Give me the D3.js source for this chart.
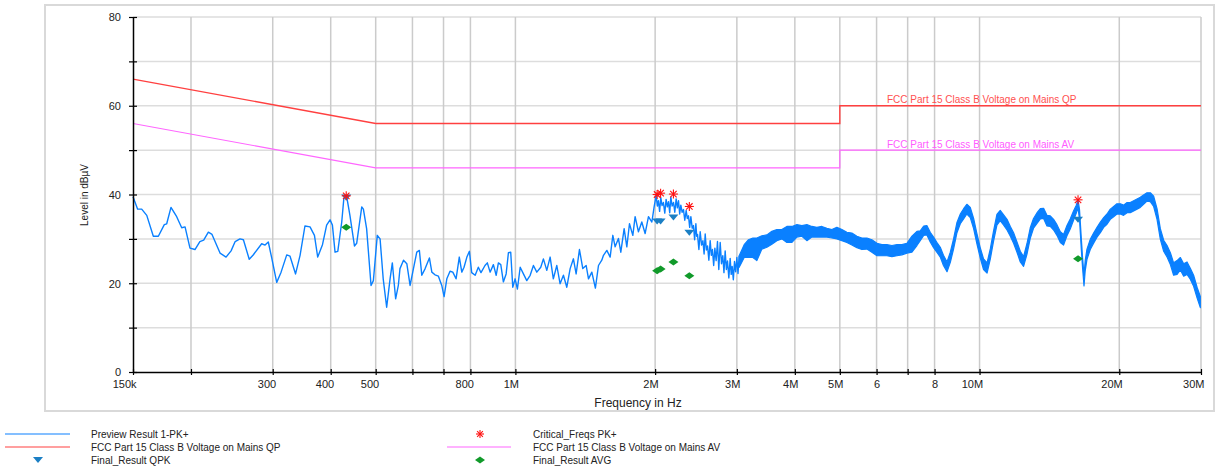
<!DOCTYPE html>
<html><head><meta charset="utf-8">
<script src="https://cdn.jsdelivr.net/npm/d3@7"></script>
<style>
body{margin:0;background:#fff;}
svg{display:block;font-family:"Liberation Sans",Arial,sans-serif;}
</style>
</head><body>
<svg id="c" width="1231" height="469"></svg>
<script>
// ---------------- DATA ----------------
// Preview Result 1-PK+ below 3 MHz: [frequency kHz, level dBµV]
const previewPoints = [
[150,39.5],[153.5,36.7],[156.6,36.7],[160.6,35.3],[165.9,30.6],[170.1,30.6],[175.2,33.2],[177.3,33.4],[181.1,37.1],[186.3,35.0],
[191,32.5],[194.2,32.7],[199,27.9],[204,27.6],[209,29.4],[213,29.7],[218,31.5],[222,31.0],[231,26.8],[238,25.9],
[244,27.3],[249,29.4],[255,30.0],[259.4,29.8],[267,25.4],[272,26.3],[284,28.9],[288.8,28.6],[293.5,29.3],[298.5,25.7],
[306,20.2],[312.7,22.5],[321.6,26.4],[326.9,26.1],[336,22.1],[343.6,26.3],[352,32.9],[361,32.7],[369,30.8],[375,25.9],
[384,28.7],[392,33.1],[398.7,34.3],[403.4,33.1],[408.7,27.0],[414.3,27.2],[422.5,33.8],[427,39.2],[433,39.5],[440,35.3],
[450,28.4],[455,29.0],[466.6,37.2],[470.4,36.7],[478,32.3],[488.6,19.5],[494.3,20.6],[504,30.8],[511,30.0],[519,21.0],
[528,14.6],[537,21.0],[543,24.6],[552,16.5],[559.6,19.6],[564,23.3],[574,25.2],[583.5,24.4],[593,19.5],[603,23.3],
[613,27.0],[621,27.4],[628.5,21.8],[639,23.3],[652.7,25.7],[660.6,22.5],[671,21.9],[682.5,21.6],[694,19.5],[702,17.0],
[711.6,21.0],[723,22.7],[733,22.5],[745,21.0],[757,25.9],[766.5,22.5],[775,23.6],[786,25.9],[796,27.2],[805,22.4],
[819,21.8],[832,23.6],[843,22.4],[860,24.0],[870,24.6],[882,22.5],[896.5,24.2],[909,21.8],[919,24.6],[930,24.2],
[942,20.3],[955,22.1],[966,26.9],[977,27.0],[987,19.1],[998.5,21.0],[1010,18.7],[1024,23.6],[1040.6,22.1],[1058,20.6],
[1076,21.8],[1093.5,24.0],[1112,22.5],[1134,23.6],[1149,25.5],[1168.5,22.9],[1188,25.9],[1207,21.0],[1228,24.0],[1248,19.9],
[1269,21.8],[1290.5,19.1],[1312,23.3],[1333.5,25.5],[1351.5,22.1],[1374,27.6],[1397,23.3],[1420.5,24.0],[1437,21.0],[1461,22.5],
[1487,18.9],[1510,24.0],[1535,25.2],[1548,26.3],[1574,27.4],[1600,25.9],[1621.5,30.8],[1640,28.2],[1667,30.1],[1687,27.0],
[1715,32.3],[1738,28.2],[1761,33.4],[1790.5,30.8],[1811,35.0],[1841,31.6],[1872,33.8],[1903,31.2],[1935,35.0],[1968,33.8],
[1990,37.2],[2010,39.8],[2022,37.4],[2033,38.6],[2045,36.2],[2057,39.3],[2070,37.5],[2084,38.2],[2098,35.8],[2112,38.9],
[2125,37.2],[2137,38.4],[2150,35.9],[2162,39.4],[2176,37.4],[2191,38.2],[2205,36.0],[2220,39.0],[2233,37.0],[2246,38.6],
[2259,35.6],[2272,37.6],[2287,36.0],[2302,36.6],[2317,34.2],[2333,36.4],[2346,34.6],[2360,35.2],[2374,32.6],[2388,35.0],
[2404,32.4],[2419,33.0],[2433,29.8],[2448,33.4],[2458,30.6],[2468,31.0],[2485,27.6],[2501,31.6],[2518,28.6],[2535,29.6],
[2550,26.6],[2564,31.1],[2579,27.5],[2594,28.4],[2611,25.2],[2628,29.6],[2643,26.3],[2658,27.6],[2674,24.0],[2690,27.9],
[2707,25.1],[2725,29.4],[2743,23.1],[2762,29.2],[2780,24.4],[2798,26.2],[2814,22.4],[2831,27.3],[2848,23.1],[2864,25.0],
[2883,21.2],[2902,25.6],[2917,22.0],[2931,23.8],[2948,20.8],[2965,24.9],[2982,22.6],[3000,25.8],[3017,22.2]
];
// Preview Result 1-PK+ from 3 MHz, per-bin peak/min: [frequency kHz, max dBµV, min dBµV]
const previewBins = [
[3035,26.2,23.6],[3111,28.7,25.8],[3178,29.8,25.8],[3248,30.2,25.8],[3313,30.2,25.1],[3396,30.7,27.7],[3482,30.9,28.1],
[3569,31.7,28.8],[3658,32.1,29.6],[3750,32.1,30.0],[3845,32.8,29.2],[3942,32.8,29.2],[4041,33.2,30.4],[4142,33.0,30.6],[4246,33.2,29.6],
[4352,32.8,30.4],[4461,32.6,30.4],[4574,32.8,30.4],[4689,32.4,30.4],[4806,32.1,30.2],[4927,32.6,30.0],[5052,32.1,29.6],[5178,31.5,29.2],
[5308,31.3,28.6],[5442,30.6,28.0],[5578,30.2,27.6],[5719,30.2,27.7],[5862,29.8,27.0],[6011,29.0,26.2],[6161,28.7,26.2],[6316,28.7,26.2],
[6474,28.5,26.0],[6637,28.7,26.2],[6804,28.7,26.4],[6975,29.0,26.8],[7150,30.6,27.0],[7330,31.7,28.5],
[7450,31.8,29.6],[7580,32.9,30.8],[7700,33.0,30.9],[7830,31.5,29.3],[7960,30.4,28.0],[8090,29.2,27.0],[8230,28.1,25.9],[8360,26.3,24.0],
[8510,24.8,22.6],[8650,27.0,24.7],[8790,30.0,27.7],[8940,33.7,31.4],[9090,35.6,33.4],[9240,36.8,34.5],[9390,37.8,35.6],[9550,37.1,34.8],
[9710,34.6,32.3],[9870,31.2,28.9],[10030,28.1,25.8],[10200,25.5,23.1],[10380,24.6,22.3],[10550,27.8,25.5],[10720,31.8,29.5],[10900,35.5,33.1],
[11080,36.4,34.1],[11270,35.4,33.1],[11460,34.4,32.0],[11650,32.8,30.6],[11840,31.4,29.0],[12040,29.3,27.0],[12240,27.2,24.8],[12440,26.0,23.8],
[12650,28.9,26.5],[12860,32.5,30.1],[13070,34.6,32.4],[13300,35.9,33.5],[13520,36.8,34.5],[13740,36.9,34.6],[13970,35.3,32.9],[14200,35.2,32.8],
[14440,34.4,32.0],[14680,33.2,30.8],[14930,31.6,29.2],[15170,31.0,28.6],[15430,33.0,30.7],[15680,34.5,32.2],[15940,36.3,34.2],[16160,37.6,35.8],
[16300,38.8,37.0],[16420,36.6,34.4],[16570,30.0,27.5],[16670,25.8,23.5],[16790,21.8,19.4],[16890,25.1,22.8],[17040,27.7,25.4],[17320,29.9,27.6],
[17610,31.3,29.0],[17910,32.6,30.4],[18210,33.8,31.4],[18510,34.8,32.6],[18820,35.6,33.3],[19130,36.7,34.4],[19450,37.3,35.0],[19770,37.9,35.6],
[20110,37.9,35.6],[20430,37.6,35.3],[20790,38.2,35.9],[21120,38.2,35.9],[21480,38.6,36.3],[21840,39.0,36.7],[22200,39.4,37.1],[22560,39.9,37.8],
[22950,40.4,38.5],[23330,40.4,38.4],[23720,39.6,37.3],[24120,36.8,34.4],[24520,32.3,29.9],[24930,29.7,27.2],[25350,28.5,25.9],[25770,26.9,24.2],
[26190,24.6,21.8],[26640,25.1,22.0],[27080,25.8,23.0],[27530,24.4,21.6],[27990,24.8,22.0],[28450,23.4,20.9],[28920,21.8,19.3],[29420,19.1,16.7],
[29900,17.0,14.5]
];
// Limits
const qpLimitKHz = [150, 500, 5000, 5000, 30000];
const qpLimitDb  = [66, 56, 56, 60, 60];
const avLimitKHz = [150, 500, 5000, 5000, 30000];
const avLimitDb  = [56, 46, 46, 50, 50];
// Markers
const critKHz = [432, 2020, 2055, 2190, 2370, 16300];
const critDb  = [39.7, 40.0, 40.3, 40.1, 37.3, 38.8];
const qpkKHz  = [432, 2020, 2055, 2190, 2370, 16300];
const qpkDb   = [39.3, 33.9, 33.9, 34.8, 31.4, 34.3];
const avgKHz  = [432, 2020, 2055, 2190, 2370, 16300];
const avgDb   = [32.6, 22.8, 23.2, 24.8, 21.7, 25.5];
// Axes
const xTickKHz   = [150,200,300,400,500,600,700,800,1000,2000,3000,4000,5000,6000,7000,8000,10000,20000,30000];
const xTickLabels= ["150k","","300","400","500","","","800","1M","2M","3M","4M","5M","6","","8","10M","20M","30M"];
const yTickDb    = [0,10,20,30,40,50,60,70,80];
const yTickLabels= ["0","","20","","40","","60","","80"];

// ---------------- DRAW ----------------
const FONT = '"Liberation Sans",Arial,sans-serif';
const BLUE = "#0a80ff";
const svg = d3.select("#c");
const x = d3.scaleLog().domain([150, 30000]).range([133, 1201]);
const y = d3.scaleLinear().domain([0, 80]).range([372, 17]);

svg.append("rect").attr("x",45).attr("y",5).attr("width",1169).attr("height",406)
  .attr("fill","none").attr("stroke","#d9d9d9").attr("stroke-width",2);

// grid
svg.append("g").selectAll("line").data(yTickDb.filter(d=>d>0)).join("line")
  .attr("x1",x(150)).attr("x2",x(30000)).attr("y1",d=>y(d)).attr("y2",d=>y(d))
  .attr("stroke","#dddddd").attr("stroke-width",1.5);
svg.append("g").selectAll("line").data(xTickKHz.filter(d=>d>150)).join("line")
  .attr("x1",d=>x(d)).attr("x2",d=>x(d)).attr("y1",y(0)).attr("y2",y(80))
  .attr("stroke","#cbcbcb").attr("stroke-width",1.5);

// limit lines
const lim = d3.line().x(d=>x(d[0])).y(d=>y(d[1]));
svg.append("path").datum(qpLimitKHz.map((f,i)=>[f,qpLimitDb[i]])).attr("d",lim)
  .attr("fill","none").attr("stroke","#ff4040").attr("stroke-width",1.4);
svg.append("path").datum(avLimitKHz.map((f,i)=>[f,avLimitDb[i]])).attr("d",lim)
  .attr("fill","none").attr("stroke","#ff66ff").attr("stroke-width",1.2);
svg.append("text").attr("x",887).attr("y",102.5).attr("font-size",10).attr("fill","#ff5050")
  .attr("font-family",FONT).text("FCC Part 15 Class B Voltage on Mains QP");
svg.append("text").attr("x",887).attr("y",147.5).attr("font-size",10).attr("fill","#ff5cff")
  .attr("font-family",FONT).text("FCC Part 15 Class B Voltage on Mains AV");

// trace: single-valued part as line, binned part as peak/min band
svg.append("path").datum(previewPoints.concat([[previewBins[0][0], previewBins[0][1]]])).attr("d",lim)
  .attr("fill","none").attr("stroke",BLUE).attr("stroke-width",1.4).attr("stroke-linejoin","round");
const band = d3.area().x(d=>x(d[0])).y0(d=>y(d[2])).y1(d=>y(d[1]));
svg.append("path").datum(previewBins).attr("d",band)
  .attr("fill",BLUE).attr("stroke",BLUE).attr("stroke-width",1.2).attr("stroke-linejoin","round");

// marker shapes
function star(g, cx, cy, r){
  const s = g.append("g").attr("transform",`translate(${cx},${cy})`).attr("stroke","#ff1010").attr("stroke-width",1.1);
  [[r,0],[0,r],[r*0.72,r*0.72],[r*0.72,-r*0.72]].forEach(([dx,dy])=>{
    s.append("line").attr("x1",-dx).attr("y1",-dy).attr("x2",dx).attr("y2",dy);
  });
}
function tri(g, cx, cy){
  g.append("path").attr("d",`M${cx-5},${cy-3}L${cx+5},${cy-3}L${cx},${cy+3}Z`).attr("fill","#1b7fc4");
}
function diamond(g, cx, cy){
  g.append("path").attr("d",`M${cx-5},${cy}L${cx},${cy-3.5}L${cx+5},${cy}L${cx},${cy+3.5}Z`).attr("fill","#119a2a");
}
const mk = svg.append("g");
qpkKHz.forEach((f,i)=>tri(mk, x(f), y(qpkDb[i])));
avgKHz.forEach((f,i)=>diamond(mk, x(f), y(avgDb[i])));
critKHz.forEach((f,i)=>star(mk, x(f), y(critDb[i]), 4.5));

// axes
const gx = svg.append("g").attr("transform",`translate(0,${y(0)})`)
  .call(d3.axisBottom(x).tickValues(xTickKHz).tickFormat((d,i)=>xTickLabels[i]).tickSizeOuter(0));
gx.attr("font-family",FONT).attr("font-size",11);
gx.select(".domain").attr("stroke","#000").attr("stroke-width",1.5);
gx.selectAll(".tick line").attr("y1",-3).attr("y2",3).attr("stroke","#000").attr("stroke-width",1.2);
gx.selectAll(".tick text").attr("text-anchor","end").attr("x",3).attr("y",16).attr("dy",null).attr("fill","#222");

const gy = svg.append("g").attr("transform",`translate(${x(150)},0)`)
  .call(d3.axisLeft(y).tickValues(yTickDb).tickFormat((d,i)=>yTickLabels[i]).tickSizeOuter(0));
gy.attr("font-family",FONT).attr("font-size",11);
gy.select(".domain").attr("stroke","#000").attr("stroke-width",1.5);
gy.selectAll(".tick line").attr("x1",-4).attr("x2",4).attr("stroke","#000").attr("stroke-width",1.2);
gy.selectAll(".tick text").attr("x",-12).attr("dy","0.35em").attr("fill","#222");

svg.append("text").attr("transform","translate(88,195) rotate(-90)").attr("text-anchor","middle")
  .attr("font-family",FONT).attr("font-size",10).attr("fill","#222").text("Level in dBµV");
svg.append("text").attr("x",638).attr("y",407).attr("text-anchor","middle")
  .attr("font-family",FONT).attr("font-size",12).attr("fill","#222").text("Frequency in Hz");

// legend
const lg = svg.append("g").attr("font-family",FONT).attr("font-size",10).attr("fill","#222");
const rows = [434, 447, 460];
lg.append("line").attr("x1",5).attr("x2",70).attr("y1",rows[0]).attr("y2",rows[0]).attr("stroke",BLUE).attr("stroke-width",1.2);
lg.append("line").attr("x1",5).attr("x2",70).attr("y1",rows[1]).attr("y2",rows[1]).attr("stroke","#ff4040").attr("stroke-width",1.2);
tri(lg, 38, rows[2]);
star(lg, 480, rows[0], 4);
lg.append("line").attr("x1",447).attr("x2",511).attr("y1",rows[1]).attr("y2",rows[1]).attr("stroke","#ff66ff").attr("stroke-width",1.2);
diamond(lg, 480, rows[2]);
const legendTexts = [
  [91, rows[0], "Preview Result 1-PK+"],
  [91, rows[1], "FCC Part 15 Class B Voltage on Mains QP"],
  [91, rows[2], "Final_Result QPK"],
  [533, rows[0], "Critical_Freqs PK+"],
  [533, rows[1], "FCC Part 15 Class B Voltage on Mains AV"],
  [533, rows[2], "Final_Result AVG"]
];
legendTexts.forEach(([tx,ty,t])=>lg.append("text").attr("x",tx).attr("y",ty).attr("dy","0.35em").text(t));
</script>
</body></html>
